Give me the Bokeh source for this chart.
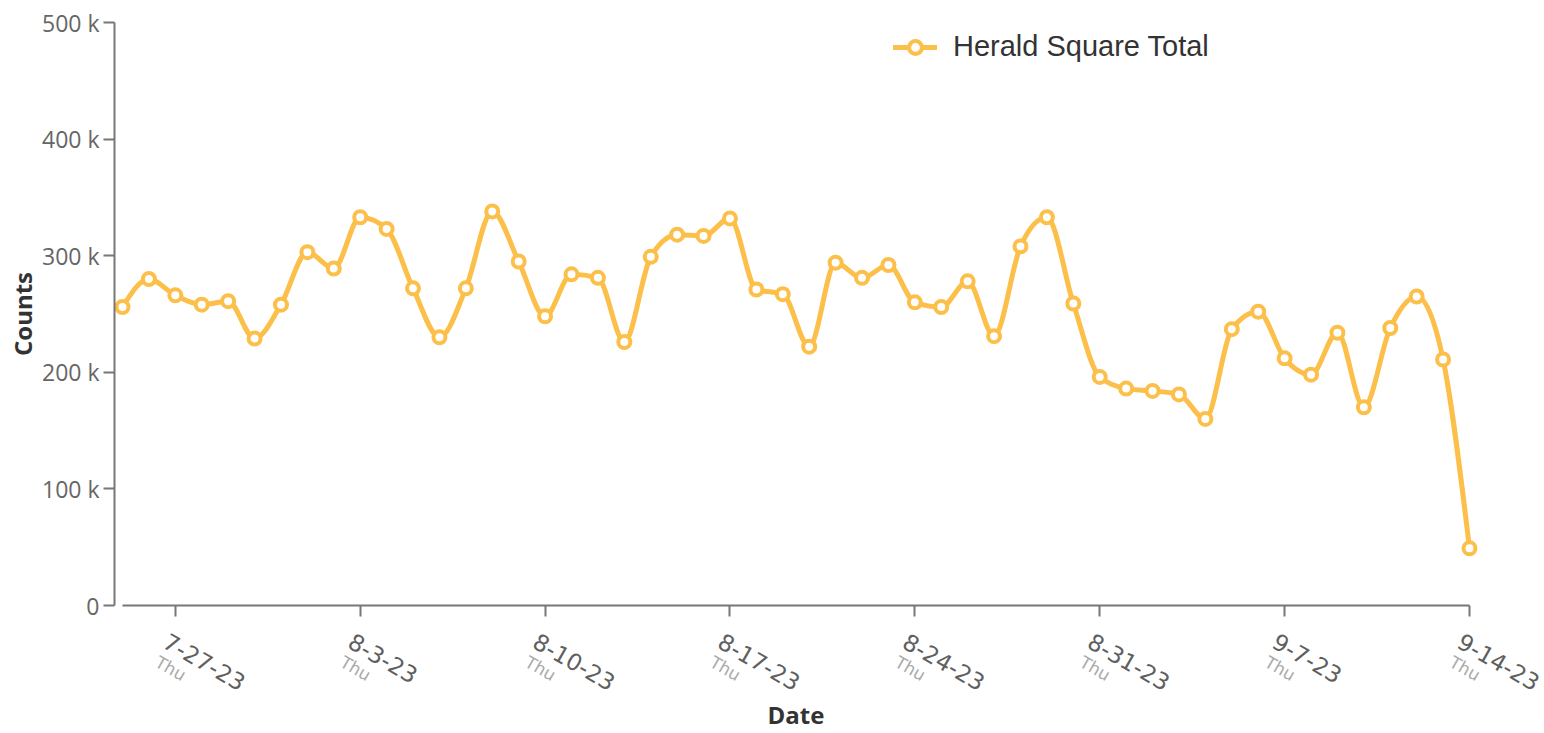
import numpy as np
import pandas as pd
from bokeh.plotting import figure
from bokeh.models import (FixedTicker, CustomJSTickFormatter, DatetimeAxis,
                          Legend, LegendItem, Range1d)
from bokeh.embed import file_html
from bokeh.resources import INLINE

# ---------------- data ----------------
series_name = "Herald Square Total"
dates = pd.date_range("2023-07-25", "2023-09-14", freq="D")
counts_k = [
    256, 280, 266, 258, 261, 229, 258,            # 7-25 .. 7-31
    303, 289, 333, 323, 272, 230, 272, 338, 295, 248,
    284, 281, 226, 299, 318, 317, 332, 271, 267, 222,
    294, 281, 292, 260, 256, 278, 231, 308, 333, 259, 196,  # 8-1 .. 8-31
    186, 184, 181, 160, 237, 252, 212, 198, 234, 170,
    238, 265, 211, 49,                            # 9-1 .. 9-14
]
tick_dates = ["2023-07-27", "2023-08-03", "2023-08-10", "2023-08-17",
              "2023-08-24", "2023-08-31", "2023-09-07", "2023-09-14"]
tick_date_labels = ["7-27-23", "8-3-23", "8-10-23", "8-17-23",
                    "8-24-23", "8-31-23", "9-7-23", "9-14-23"]
tick_day_labels = ["Thu"] * 8
y_ticks = [0, 100000, 200000, 300000, 400000, 500000]
y_tick_labels = ["0", "100 k", "200 k", "300 k", "400 k", "500 k"]

# ---------------- helpers ----------------
DAY = 86400000.0
EPOCH = pd.Timestamp("1970-01-01")
x_ms = np.array([(d - EPOCH) / pd.Timedelta(milliseconds=1) for d in dates])
tick_ms = [float((pd.Timestamp(d) - EPOCH) / pd.Timedelta(milliseconds=1)) for d in tick_dates]
y = np.array(counts_k, dtype=float) * 1000.0

# monotone-x cubic tangents (per day), used for bezier control points
n = len(y)
s = np.diff(y)
t = np.zeros(n)
for i in range(1, n - 1):
    s0, s1 = s[i - 1], s[i]
    pm = (s0 + s1) / 2.0
    t[i] = (np.sign(s0) + np.sign(s1)) * min(abs(s0), abs(s1), 0.5 * abs(pm))
t[0] = (3 * s[0] - t[1]) / 2.0
t[-1] = (3 * s[-1] - t[-2]) / 2.0

seg = dict(
    x0=x_ms[:-1], y0=y[:-1], x1=x_ms[1:], y1=y[1:],
    cx0=x_ms[:-1] + DAY / 3, cy0=y[:-1] + t[:-1] / 3,
    cx1=x_ms[1:] - DAY / 3, cy1=y[1:] - t[1:] / 3,
)

COLOR = "#FCBF49"
AXIS = "#777777"
PAD = 0.303 * DAY
ANG = -0.52
DATE_SHIFT = round(-0.37 * DAY)   # label anchor offsets (layout only)
DAY_SHIFT = round(-0.70 * DAY)

p = figure(width=1544, height=733, x_axis_type="datetime",
           output_backend="svg", toolbar_location=None,
           x_range=Range1d(x_ms[0] - PAD, x_ms[-1] + PAD),
           y_range=Range1d(0, 500000),
           min_border_left=114, min_border_right=67,
           min_border_top=22, min_border_bottom=128)
p.xgrid.visible = False
p.ygrid.visible = False
p.outline_line_color = None
p.background_fill_color = "white"

curve = p.bezier(x0="x0", y0="y0", x1="x1", y1="y1", cx0="cx0", cy0="cy0",
                 cx1="cx1", cy1="cy1", source=seg, line_color=COLOR,
                 line_width=5, line_cap="round")
pts = p.scatter(x_ms, y, marker="circle", size=12, fill_color="white",
                line_color=COLOR, line_width=4)

# y axis
yax = p.yaxis[0]
yax.bounds = (0, 500000)
yax.ticker = FixedTicker(ticks=y_ticks)
yax.major_label_overrides = {float(k): v for k, v in zip(y_ticks, y_tick_labels)}
yax.major_label_text_font = "Open Sans"
yax.major_label_text_font_size = "23px"
yax.major_label_text_color = "#666666"
yax.major_label_standoff = 4
yax.major_tick_out = 11
yax.major_tick_in = 0
yax.minor_tick_out = 0
yax.minor_tick_in = 0
yax.axis_line_color = AXIS
yax.axis_line_width = 2
yax.major_tick_line_color = AXIS
yax.major_tick_line_width = 2
yax.axis_label = "Counts"
yax.axis_label_text_font = "Open Sans"
yax.axis_label_text_font_style = "bold"
yax.axis_label_text_font_size = "24px"
yax.axis_label_text_color = "#333333"
yax.axis_label_standoff = 0

# x axis: line and tick marks
xax = p.xaxis[0]
xax.bounds = (x_ms[0], x_ms[-1])
xax.ticker = FixedTicker(ticks=tick_ms)
xax.formatter = CustomJSTickFormatter(code='return ""')
xax.major_label_text_font_size = "1px"
xax.major_label_standoff = 0
xax.major_tick_out = 11
xax.major_tick_in = 0
xax.minor_tick_out = 0
xax.minor_tick_in = 0
xax.axis_line_color = AXIS
xax.axis_line_width = 2
xax.major_tick_line_color = AXIS
xax.major_tick_line_width = 2

# x axis: date labels
date_ticks = [tm + DATE_SHIFT for tm in tick_ms]
xdate = DatetimeAxis(ticker=FixedTicker(ticks=date_ticks),
                     major_label_overrides={float(k): v for k, v in zip(date_ticks, tick_date_labels)},
                     major_label_orientation=ANG,
                     major_label_text_font="DejaVu Sans",
                     major_label_text_font_size="23px",
                     major_label_text_color="#5f5f5f",
                     major_label_standoff=23,
                     major_tick_out=0, major_tick_in=0,
                     minor_tick_out=0, minor_tick_in=0,
                     axis_line_color=None, major_tick_line_color=None,
                     minor_tick_line_color=None)
p.add_layout(xdate, "below")

# x axis: weekday labels + axis title
day_ticks = [tm + DAY_SHIFT for tm in tick_ms]
xday = DatetimeAxis(ticker=FixedTicker(ticks=day_ticks),
                    major_label_overrides={float(k): v for k, v in zip(day_ticks, tick_day_labels)},
                    major_label_orientation=ANG,
                    major_label_text_font="DejaVu Sans",
                    major_label_text_font_size="17px",
                    major_label_text_color="#aaaaaa",
                    major_label_standoff=-41,
                    major_tick_out=0, major_tick_in=0,
                    minor_tick_out=0, minor_tick_in=0,
                    axis_line_color=None, major_tick_line_color=None,
                    minor_tick_line_color=None,
                    axis_label="Date", axis_label_text_font="Open Sans",
                    axis_label_text_font_style="bold",
                    axis_label_text_font_size="24px",
                    axis_label_text_color="#333333",
                    axis_label_standoff=1)
p.add_layout(xday, "below")

legend = Legend(items=[LegendItem(label=series_name, renderers=[curve, pts])],
                location=(779, 542), orientation="horizontal",
                padding=0, margin=0, spacing=0,
                glyph_width=44, glyph_height=32, label_standoff=16,
                label_text_font="Liberation Sans", label_text_font_size="29px",
                label_text_color="#333333",
                border_line_alpha=0, background_fill_alpha=0)
p.add_layout(legend)

open("out.html", "w").write(file_html(p, INLINE))
